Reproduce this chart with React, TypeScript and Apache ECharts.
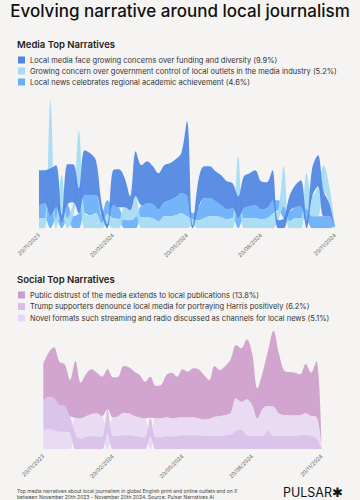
import React, { useEffect, useRef } from "react";
import * as echarts from "echarts";

// ---------- DATA ----------
const tickLabels = ["20/11/2023", "20/02/2024", "20/05/2024", "20/08/2024", "20/11/2024"];

const mediaNames = [
  "Local media face growing concerns over funding and diversity (9.9%)",
  "Growing concern over government control of local outlets in the media industry (5.2%)",
  "Local news celebrates regional academic achievement (4.6%)",
];
const mediaColors = ["#5087e2", "#a5dcf5", "#69affb"];
const mediaFunding = [35, 33, 48, 42, 8, 40, 38, 25, 45, 42, 35, 12, 4, 35, 38, 30, 14, 45, 40, 42, 38, 36, 37, 37, 38, 40, 75, 3, 28, 32, 32, 30, 30, 28, 25, 22, 32, 33, 35, 28, 26, 30, 8, 10, 15, 22, 26, 8, 28, 31, 25, 13, 1];
const mediaGovernment = [10, 10, 68, 9, 40, 10, 14, 57, 15, 13, 15, 5, 10, 10, 9, 12, 10, 20, 11, 11, 10, 7, 12, 12, 13, 15, 12, 6, 8, 10, 12, 12, 11, 9, 10, 40, 10, 10, 10, 9, 10, 14, 10, 40, 7, 10, 10, 35, 20, 30, 26, 17, 1];
const mediaAcademic = [13, 15, 12, 12, 5, 14, 12, 15, 18, 20, 18, 8, 14, 13, 12, 9, 8, 12, 12, 14, 14, 12, 14, 16, 18, 20, 20, 6, 12, 20, 18, 15, 12, 10, 10, 10, 10, 12, 13, 10, 10, 14, 10, 12, 10, 11, 12, 12, 12, 12, 12, 12, 1];

const socialNames = [
  "Public distrust of the media extends to local publications (13.8%)",
  "Trump supporters denounce local media for portraying Harris positively (6.2%)",
  "Novel formats such streaming and radio discussed as channels for local news (5.1%)",
];
const socialColors = ["#cd9ecc", "#d7c0e8", "#e6d8f3"];
const socialDistrust = [110, 132, 153, 130, 125, 108, 170, 107, 126, 134, 122, 118, 120, 120, 118, 140, 138, 133, 127, 110, 123, 97, 100, 127, 137, 123, 144, 137, 147, 147, 133, 116, 152, 138, 147, 160, 160, 160, 180, 155, 90, 110, 168, 228, 180, 133, 129, 128, 122, 148, 130, 167, 4];
const socialTrump = [90, 98, 95, 80, 77, 52, 45, 32, 38, 40, 38, 38, 72, 40, 40, 42, 42, 40, 38, 36, 55, 36, 36, 40, 38, 40, 42, 42, 42, 42, 40, 40, 40, 40, 42, 44, 56, 58, 43, 40, 40, 40, 56, 40, 40, 40, 40, 40, 42, 43, 40, 33, 2];
const socialNovel = [58, 60, 58, 53, 53, 48, 50, 61, 62, 66, 70, 62, 48, 56, 60, 68, 66, 60, 58, 57, 40, 57, 57, 56, 55, 55, 54, 54, 54, 51, 50, 52, 58, 60, 61, 66, 97, 85, 107, 93, 53, 83, 74, 88, 68, 63, 63, 62, 61, 65, 60, 65, 2];

// weekly categories starting 20/11/2023
const weeks: string[] = (() => {
  const out: string[] = [];
  const start = Date.UTC(2023, 10, 20);
  for (let i = 0; i < mediaFunding.length; i++) {
    const d = new Date(start + i * 7 * 86400000);
    out.push(
      String(d.getUTCDate()).padStart(2, "0") + "/" + String(d.getUTCMonth() + 1).padStart(2, "0") + "/" + d.getUTCFullYear()
    );
  }
  return out;
})();

const FONT = "Inter, 'Noto Sans', sans-serif";

// sorted (ascending per point) stacked bands
function buildBands(values: number[][], names: string[], colors: string[], prefix: string, axisIndex: number, smooth: number) {
  const n = values[0].length;
  const lowers = values.map(() => new Array(n).fill(0));
  for (let i = 0; i < n; i++) {
    const order = values.map((_, k) => k).sort((a, b) => values[a][i] - values[b][i] || a - b);
    let acc = 0;
    for (const k of order) {
      lowers[k][i] = acc;
      acc += values[k][i];
    }
  }
  const series: any[] = [];
  const drawOrder = values.map((_, k) => k).reverse();
  drawOrder.forEach((k) => {
    series.push({
      name: prefix + "_base_" + k,
      type: "line",
      xAxisIndex: axisIndex,
      yAxisIndex: axisIndex,
      stack: prefix + k,
      data: lowers[k],
      symbol: "none",
      showSymbol: false,
      smooth,
      silent: true,
      lineStyle: { width: 0, opacity: 0 },
      itemStyle: { color: "transparent" },
    });
    series.push({
      name: names[k],
      type: "line",
      xAxisIndex: axisIndex,
      yAxisIndex: axisIndex,
      stack: prefix + k,
      data: values[k],
      symbol: "none",
      showSymbol: false,
      smooth,
      lineStyle: { width: 0, opacity: 0 },
      itemStyle: { color: colors[k] },
      areaStyle: { color: colors[k], opacity: 0.93 },
    });
  });
  return series;
}

const xAxisCommon = {
  type: "category",
  boundaryGap: false,
  data: weeks,
  axisLine: { show: false },
  axisTick: { show: false },
  splitLine: { show: false },
  axisLabel: {
    rotate: 45,
    fontSize: 5.5,
    color: "#666",
    fontFamily: FONT,
    margin: 6,
    interval: (index: number) => index % 13 === 0,
    formatter: (_v: string, index: number) => tickLabels[Math.round(index / 13)] ?? "",
  },
};

export default function App() {
  const ref = useRef<HTMLDivElement>(null);
  useEffect(() => {
    if (!ref.current) return;
    const chart = echarts.init(ref.current, undefined, { renderer: "svg" });
    const option: any = {
      animation: false,
      backgroundColor: "#f5f4f2",
      title: [
        {
          text: "Evolving narrative around local journalism",
          left: "center",
          top: 2,
          padding: 0,
          textStyle: { fontSize: 17, fontWeight: 500, color: "#111", fontFamily: FONT },
        },
        {
          text: "Media Top Narratives",
          left: 17,
          top: 39,
          padding: 0,
          textStyle: { fontSize: 9.5, fontWeight: 600, color: "#222", fontFamily: FONT },
        },
        {
          text: "Social Top Narratives",
          left: 17,
          top: 274,
          padding: 0,
          textStyle: { fontSize: 9.5, fontWeight: 600, color: "#222", fontFamily: FONT },
        },
      ],
      legend: [
        {
          orient: "vertical",
          left: 18,
          top: 55.5,
          padding: 0,
          itemGap: 2,
          itemWidth: 7,
          itemHeight: 7,
          icon: "rect",
          selectedMode: false,
          data: mediaNames.map((n, k) => ({ name: n, itemStyle: { color: mediaColors[k] } })),
          textStyle: { fontSize: 7.5, lineHeight: 9, color: "#333", fontFamily: FONT },
        },
        {
          orient: "vertical",
          left: 18,
          top: 290.5,
          padding: 0,
          itemGap: 2.5,
          itemWidth: 7,
          itemHeight: 7,
          icon: "rect",
          selectedMode: false,
          data: socialNames.map((n, k) => ({ name: n, itemStyle: { color: socialColors[k] } })),
          textStyle: { fontSize: 7.5, lineHeight: 9, color: "#333", fontFamily: FONT },
        },
      ],
      grid: [
        { left: 39, right: 25, top: 100, bottom: 271.7 },
        { left: 43.3, right: 38.3, top: 330, bottom: 50.7 },
      ],
      xAxis: [
        { ...xAxisCommon, gridIndex: 0 },
        { ...xAxisCommon, gridIndex: 1 },
      ],
      yAxis: [
        { type: "value", gridIndex: 0, min: 0, max: 128.3, show: false },
        { type: "value", gridIndex: 1, min: 0, max: 358, show: false },
      ],
      series: [
        ...buildBands([mediaFunding, mediaGovernment, mediaAcademic], mediaNames, mediaColors, "m", 0, 0.35),
        ...buildBands([socialDistrust, socialTrump, socialNovel], socialNames, socialColors, "s", 1, 0.35),
      ],
      graphic: [
        {
          type: "text",
          left: 17,
          top: 487.5,
          style: {
            text:
              "Top media narratives about local journalism in global English print and online outlets and on X\nbetween November 20th 2023 - November 20th 2024. Source: Pulsar Narratives AI",
            fontSize: 5,
            lineHeight: 6,
            fill: "#444",
            fontFamily: FONT,
          },
        },
        {
          type: "text",
          right: 17,
          top: 486,
          style: { text: "PULSAR✱", fontSize: 12.5, fill: "#111", fontFamily: FONT },
        },
      ],
    };
    chart.setOption(option);
    return () => chart.dispose();
  }, []);
  return (
    <div style={{ position: "fixed", left: 0, top: 0, width: 360, height: 500, background: "#f5f4f2" }}>
      <div ref={ref} style={{ width: 360, height: 500 }} />
    </div>
  );
}
